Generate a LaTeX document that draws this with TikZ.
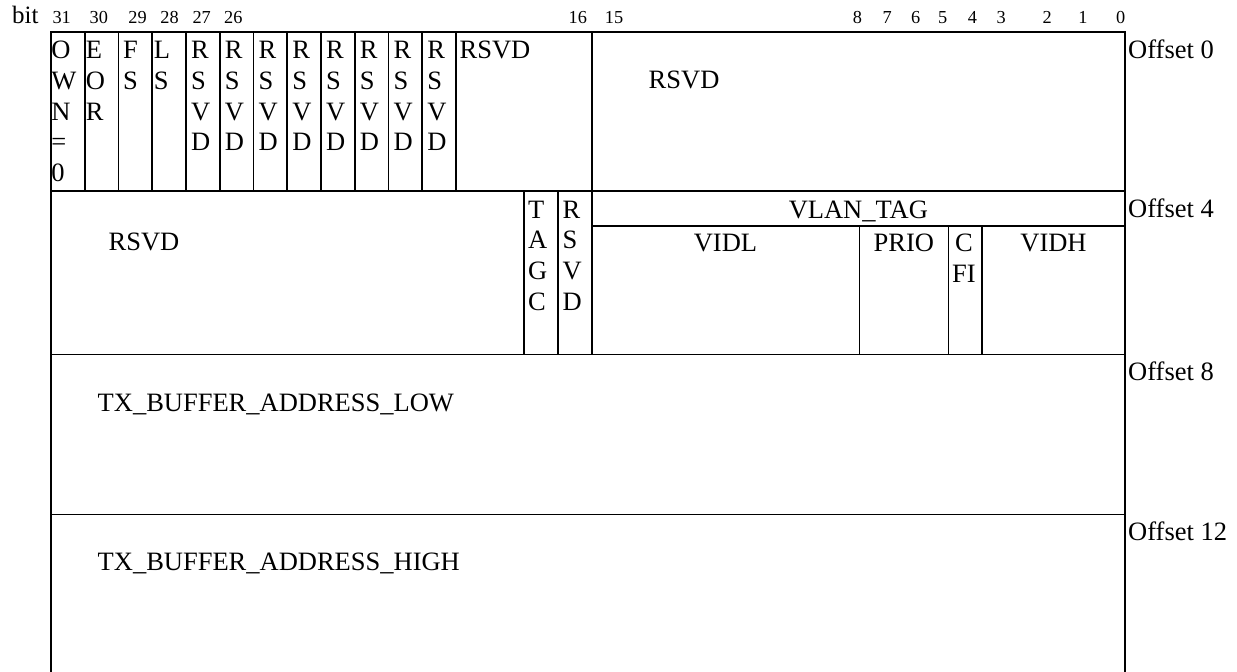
\documentclass[tikz,border=0pt]{standalone}
\usepackage{fontspec}
\setmainfont{Liberation Serif}
\usepackage{tikz}

\newcommand{\fieldfont}{\fontsize{26.5}{30.8}\selectfont}
\newcommand{\vtext}[1]{\begin{tabular}[t]{@{}l@{}}#1\end{tabular}}

\tikzset{
    field/.style={inner sep=0pt, anchor=base west, font=\fieldfont},
    ctrfield/.style={inner sep=0pt, anchor=base, font=\fieldfont},
    bitno/.style={inner sep=0pt, anchor=base, font=\fontsize{18.3}{20}\selectfont},
    frame/.style={line width=1.6pt},
}

\begin{document}
\begin{tikzpicture}[
        x=1pt, y=-1pt,
        declare function={
            Left=51;
            Right=1125;
            Top=31.7;
            RowA=191;
            RowV=225.7;
            RowB=354.5;
            RowC=514.3;
            Bit=33.75;
            Mid=591.7;
            BaseA=58.5;
            BaseB=218;
        }
    ]
        \useasboundingbox (0,0) rectangle (1237,672);

        % outline and row separators
        \draw[frame] (Left, 672) -- (Left, Top) -- (Right, Top) -- (Right, 672);
        \draw[frame] (Left, RowA) -- (Right, RowA);
        \draw[frame] (Left, RowB) -- (Right, RowB);
        \draw[frame] (Left, RowC) -- (Right, RowC);

        % word 0
        \foreach \i in {1,...,12}
            \draw[frame] (Left+Bit*\i, Top) -- (Left+Bit*\i, RowA);
        \draw[frame] (Mid, Top) -- (Mid, RowB);

        % word 1
        \draw[frame] (Mid-Bit*2, RowA) -- (Mid-Bit*2, RowB);
        \draw[frame] (Mid-Bit, RowA) -- (Mid-Bit, RowB);
        \draw[frame] (Mid, RowV) -- (Right, RowV);
        \draw[frame] (859.3, RowV) -- (859.3, RowB);
        \draw[frame] (948.3, RowV) -- (948.3, RowB);
        \draw[frame] (982, RowV) -- (982, RowB);

        % bit numbers
        \node[inner sep=0pt, anchor=base west, font=\fontsize{25}{28}\selectfont] (bitlbl) at (12, 23.3) {bit};
        \foreach \b/\x in {31/61.7, 30/98.8, 29/137.5, 28/169.5, 27/201.7, 26/233.3,
                16/577.8, 15/614, 8/857.5, 7/887.2, 6/915.8, 5/942.8,
                4/972.5, 3/1001.2, 2/1047.2, 1/1083, 0/1120.8}
            \node[bitno] (bit\b) at (\x, 23.3) {\b};

        % offsets
        \foreach \n/\y in {0/58.7, 4/217.3, 8/380.7, 12/540.9}
            \node[field] (off\n) at (1128, \y) {Offset \n};

        % fields of word 0
        \node[field] (own) at (51.2, BaseA) {\vtext{O\\W\\N\\=\\0}};
        \node[field] (eor) at (85.7, BaseA) {\vtext{E\\O\\R}};
        \node[field] (fs) at (123, BaseA) {\vtext{F\\S}};
        \node[field] (ls) at (153.7, BaseA) {\vtext{L\\S}};
        \foreach \i [evaluate=\i as \x using Left+Bit*\i+5] in {4,...,11}
            \node[field] (rsvd\i) at (\x, BaseA) {\vtext{R\\S\\V\\D}};
        \node[field] (rsvdhi) at (459.5, BaseA) {RSVD};
        \node[field] (rsvdlo) at (648.5, 88.8) {RSVD};

        % fields of word 1
        \node[field] (rsvdw) at (108.5, 250) {RSVD};
        \node[field] (tagc) at (528, BaseB) {\vtext{T\\A\\G\\C}};
        \node[field] (rsvdt) at (562.3, BaseB) {\vtext{R\\S\\V\\D}};
        \node[ctrfield] (vlan) at ({(Mid+Right)/2}, BaseB) {VLAN\_TAG};
        \node[ctrfield] (vidl) at (725.5, 251.8) {VIDL};
        \node[ctrfield] (prio) at (903.8, 251.8) {PRIO};
        \node[ctrfield] (cfi) at (964, 251.8) {\begin{tabular}[t]{@{}c@{}}C\\FI\end{tabular}};
        \node[ctrfield] (vidh) at (1053.5, 251.8) {VIDH};

        % buffer address words
        \node[field] (bufl) at (97.5, 411.8) {TX\_BUFFER\_ADDRESS\_LOW};
        \node[field] (bufh) at (97.5, 570.5) {TX\_BUFFER\_ADDRESS\_HIGH};
    \end{tikzpicture}
\end{document}
